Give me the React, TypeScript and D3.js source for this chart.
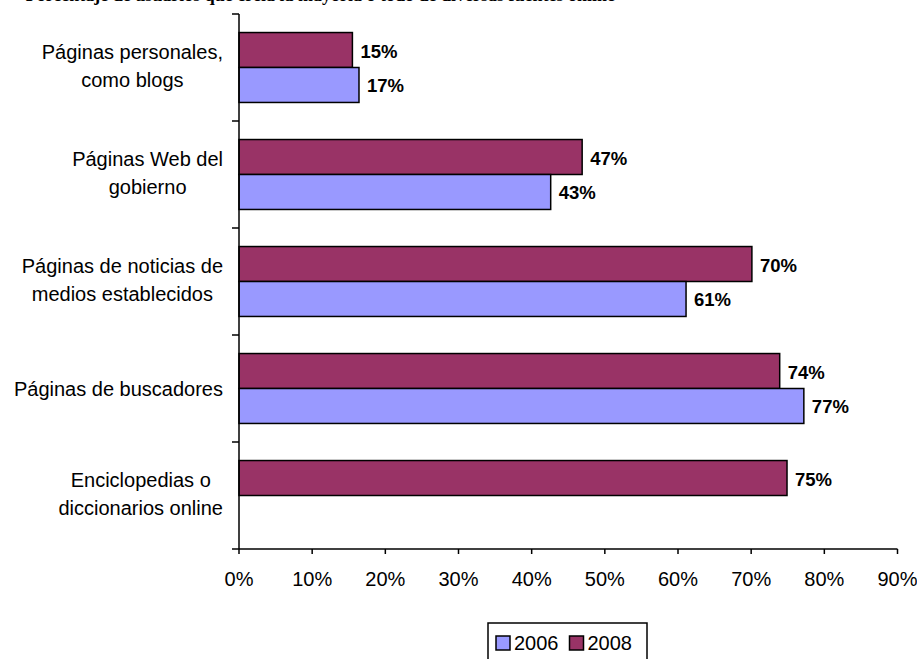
import React from "react";
import * as d3 from "d3";

const categories: string[][] = [
  ["Páginas personales,", "como blogs"],
  ["Páginas Web del", "gobierno"],
  ["Páginas de noticias de", "medios establecidos"],
  ["Páginas de buscadores"],
  ["Enciclopedias o", "diccionarios online"],
];
const seriesNames = ["2008", "2006"];
const values2008: (number | null)[] = [15.5, 46.9, 70.1, 73.9, 74.9];
const values2006: (number | null)[] = [16.4, 42.6, 61.1, 77.2, null];
const labels2008: (string | null)[] = ["15%", "47%", "70%", "74%", "75%"];
const labels2006: (string | null)[] = ["17%", "43%", "61%", "77%", null];
const xTicks = [0, 10, 20, 30, 40, 50, 60, 70, 80, 90];
const legendItems = ["2006", "2008"];
const titleText =
  "Porcentaje de usuarios que creía la mayoría o todo de diversas fuentes online";

const colors: Record<string, string> = { "2008": "#993366", "2006": "#9999FF" };
const FONT = "Arial, 'Liberation Sans', sans-serif";

let ctx: CanvasRenderingContext2D | null = null;
function measure(text: string, font: string): number {
  if (!ctx) ctx = document.createElement("canvas").getContext("2d");
  if (!ctx) return text.length * 9;
  ctx.font = font;
  return ctx.measureText(text).width;
}

export default function App() {
  const W = 917;
  const H = 659;
  const x = d3.scaleLinear().domain([0, 90]).range([239, 897.5]);
  const catKeys = categories.map((c) => c.join(" "));
  const y = d3.scaleBand<string>().domain(catKeys).range([14, 549]).padding(0);
  const inner = d3
    .scaleBand<string>()
    .domain(seriesNames)
    .range([0, y.bandwidth()])
    .paddingInner(0)
    .paddingOuter(0.53);
  const seriesVals: Record<string, (number | null)[]> = {
    "2008": values2008,
    "2006": values2006,
  };
  const seriesLabels: Record<string, (string | null)[]> = {
    "2008": labels2008,
    "2006": labels2006,
  };
  const catTickYs = [...catKeys.map((k) => y(k) as number), 549];

  return (
    <svg
      width={W}
      height={H}
      style={{ position: "absolute", left: 0, top: 0, background: "#fff" }}
    >
      <rect x={0} y={0} width={W} height={H} fill="#fff" />
      <text
        x={615}
        y={1}
        textAnchor="end"
        fontFamily="'Times New Roman', 'Liberation Serif', serif"
        fontWeight="bold"
        fontSize={18}
        fill="#000"
      >
        {titleText}
      </text>

      {/* bars */}
      {catKeys.map((k, i) =>
        seriesNames.map((s) => {
          const v = seriesVals[s][i];
          if (v == null) return null;
          const by = (y(k) as number) + (inner(s) as number);
          const bh = inner.bandwidth();
          return (
            <g key={k + s}>
              <rect
                x={x(0)}
                y={by}
                width={x(v) - x(0)}
                height={bh}
                fill={colors[s]}
                stroke="#000"
                strokeWidth={1.5}
              />
              <text
                x={x(v) + 8}
                y={by + bh / 2 + 7.5}
                fontFamily={FONT}
                fontWeight="bold"
                fontSize={18.5}
                fill="#000"
              >
                {seriesLabels[s][i]}
              </text>
            </g>
          );
        })
      )}

      {/* y axis */}
      <line x1={239} x2={239} y1={14} y2={549} stroke="#000" strokeWidth={1.5} />
      {catTickYs.map((ty, i) => (
        <line key={"ct" + i} x1={232} x2={239} y1={ty} y2={ty} stroke="#000" strokeWidth={1.5} />
      ))}

      {/* category labels */}
      {categories.map((lines, i) => {
        const cy = (y(catKeys[i]) as number) + y.bandwidth() / 2;
        const font = `20px ${FONT}`;
        const blockW = Math.max(...lines.map((l) => measure(l, font)));
        const cx = 223 - blockW / 2;
        return lines.map((l, j) => {
          const base =
            lines.length === 1 ? cy + 7 : cy - 9 + j * 28;
          return (
            <text
              key={"cl" + i + "-" + j}
              x={cx}
              y={base}
              textAnchor="middle"
              fontFamily={FONT}
              fontSize={20}
              fill="#000"
            >
              {l}
            </text>
          );
        });
      })}

      {/* x axis */}
      <line x1={239} x2={897.5} y1={549} y2={549} stroke="#000" strokeWidth={1.5} />
      {xTicks.map((t) => (
        <g key={"xt" + t}>
          <line x1={x(t)} x2={x(t)} y1={549} y2={554} stroke="#000" strokeWidth={1.5} />
          <text
            x={x(t)}
            y={586}
            textAnchor="middle"
            fontFamily={FONT}
            fontSize={20}
            fill="#000"
          >
            {t + "%"}
          </text>
        </g>
      ))}

      {/* legend */}
      <rect x={488} y={623} width={159} height={46} fill="#fff" stroke="#000" strokeWidth={1.5} />
      {legendItems.map((s, i) => {
        const lx = 496 + i * 73.5;
        return (
          <g key={"lg" + s}>
            <rect
              x={lx}
              y={636}
              width={14}
              height={14}
              fill={colors[s]}
              stroke="#000"
              strokeWidth={1.5}
            />
            <text x={lx + 18} y={650} fontFamily={FONT} fontSize={20} fill="#000">
              {s}
            </text>
          </g>
        );
      })}
    </svg>
  );
}
